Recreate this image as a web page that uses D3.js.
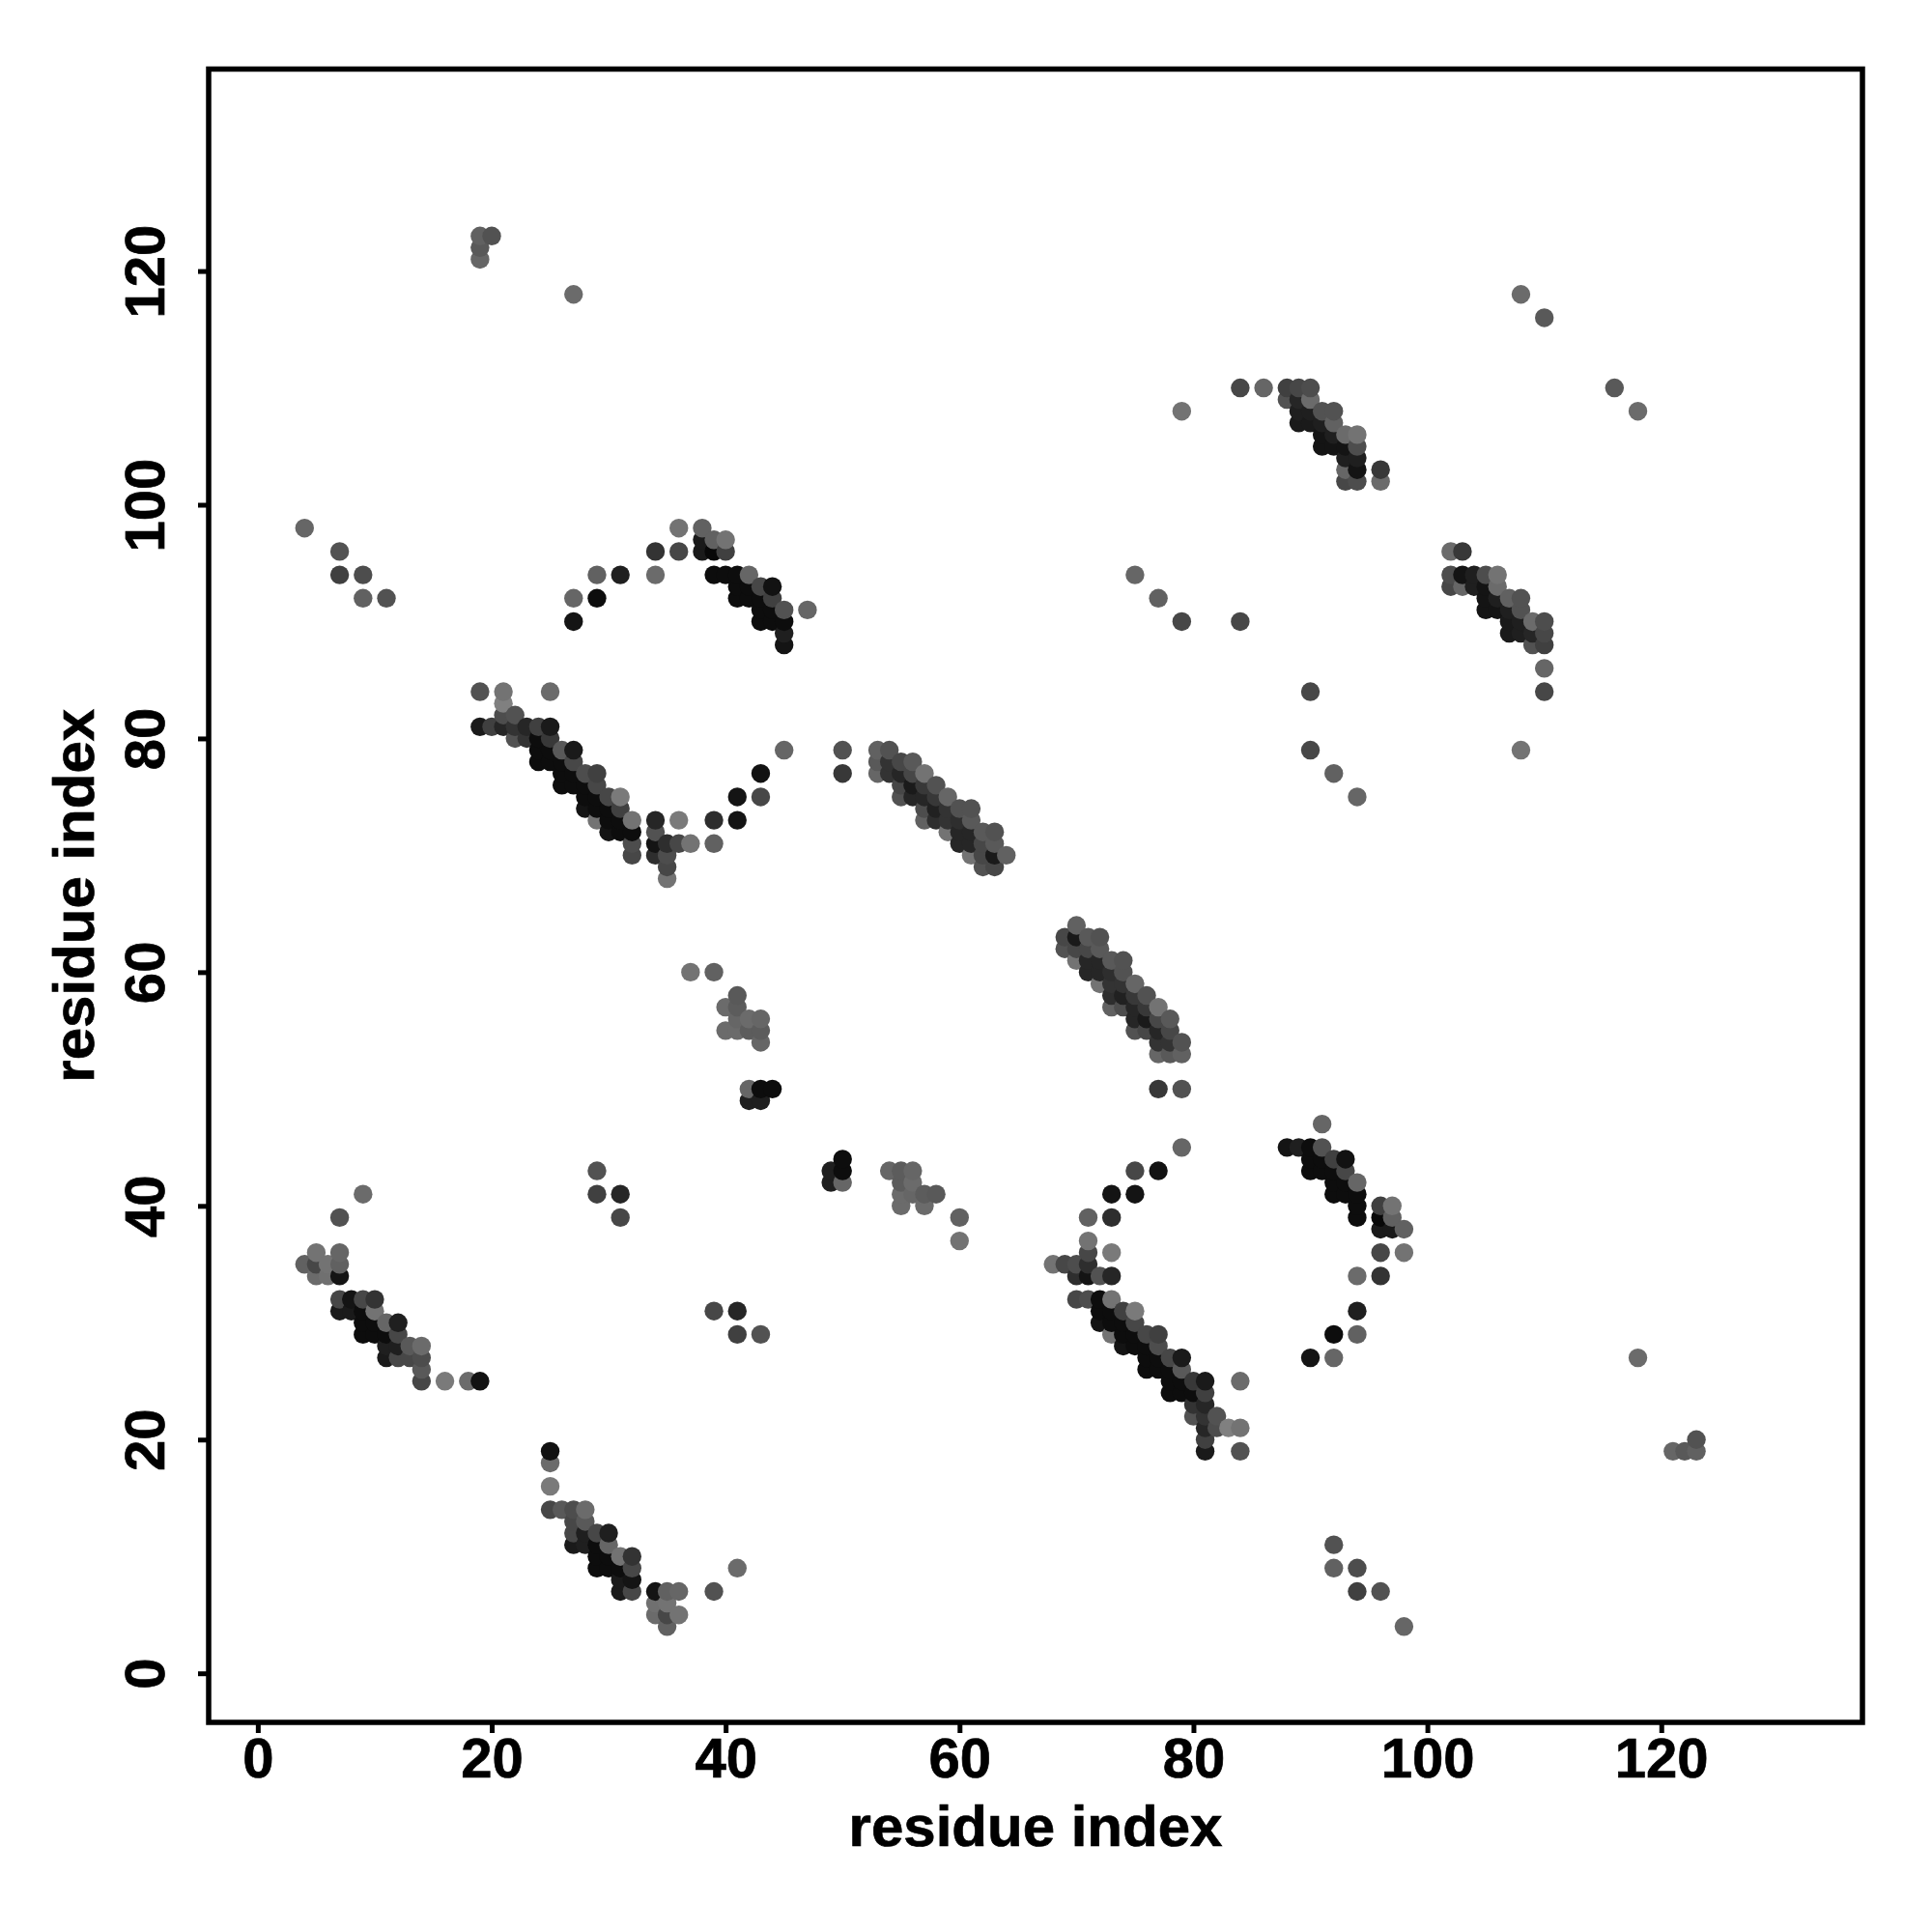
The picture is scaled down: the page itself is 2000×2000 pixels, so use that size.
<!DOCTYPE html>
<html><head><meta charset="utf-8">
<script src="https://cdnjs.cloudflare.com/ajax/libs/d3/7.8.5/d3.min.js"></script>
<style>html,body{margin:0;padding:0;background:#fff}svg{display:block}text{font-family:"Liberation Sans",Arial,sans-serif;font-weight:bold;fill:#000;stroke:#000;stroke-width:.7px}</style>
</head><body><div id="chart"></div>
<script>
const tickValues=[0,20,40,60,80,100,120];
const axisTitle="residue index";
// Symmetric contact map: each row is [residue i, residue j, darkness]; drawn at (i,j) and (j,i)
const contactsA=[[4,35,.62],[5,36,.55],[5,35,.72],[5,34,.58],[6,35,.55],[6,34,.56],[7,36,.6],[7,35,.62],[7,34,.92],[7,39,.68],[9,41,.58],
[7,32,.72],[8,32,.92],[9,32,.72],[10,32,.8],[7,31,.9],[8,31,.9],[9,31,.95],[10,31,.55],[9,30,.95],[10,30,.95],[11,30,.6],[12,30,.88],[9,29,.95],[10,29,.95],[11,29,.95],[12,29,.72],[11,28,.88],[12,28,.88],[13,28,.65],[14,28,.58],[11,27,.9],[12,27,.72],[13,27,.72],[14,27,.7],[14,26,.65],[14,25,.72],[16,25,.52],[18,25,.58],[19,25,.93]];
const contactsB=[[19,84,.68],[21,84,.55],[25,84,.58],[21,83,.5],[21,82,.7],[22,82,.68],[19,81,.9],[20,81,.75],[21,81,.85],[22,81,.8],[23,81,.85],[24,81,.75],[25,81,.9],[22,80,.68],[23,80,.8],[24,80,.95],[25,80,.78],[24,79,.95],[25,79,.95],[26,79,.65],[27,79,.9],[24,78,.95],[25,78,.95],[26,78,.95],[27,78,.72],[26,77,.95],[27,77,.95],[28,77,.7],[29,77,.75],[26,76,.95],[27,76,.95],[28,76,.95],[29,76,.72],[28,75,.95],[29,75,.95],[30,75,.72],[31,75,.52],[28,74,.92],[29,74,.95],[30,74,.95],[31,74,.75],[29,73,.55],[30,73,.95],[31,73,.95],[32,73,.55],[30,72,.92],[31,72,.95],[32,72,.95],[32,71,.7],[32,70,.72],[34,73,.85],[36,73,.52],[39,73,.82],[41,73,.92],[41,75,.92],[43,75,.72],[43,77,.93],[45,79,.6],[34,72,.68],[34,71,.92],[35,71,.82],[36,71,.72],[37,71,.55],[39,71,.62],[34,70,.82],[35,70,.7],[35,69,.72],[35,68,.55]];
const contactsC=[[27,90,.92],[27,92,.6],[29,92,.95],[29,94,.62],[31,94,.88],[34,94,.58],[34,96,.8],[36,96,.72],[36,98,.55],[38,98,.62],[38,97,.9],[39,97,.62],[40,97,.55],[38,96,.9],[39,96,.97],[40,96,.75],[39,94,.95],[40,94,.95],[41,94,.95],[42,94,.6],[41,93,.95],[42,93,.95],[43,93,.72],[44,93,.93],[41,92,.95],[42,92,.95],[43,92,.95],[44,92,.75],[43,91,.95],[44,91,.95],[45,91,.68],[43,90,.95],[44,90,.95],[45,90,.95],[45,89,.88],[45,88,.92],[47,91,.6]];
const contactsD=[[53,79,.62],[54,79,.68],[53,78,.65],[54,78,.8],[53,77,.6],[54,77,.8],[55,78,.72],[56,78,.65],[55,77,.85],[56,77,.72],[57,77,.55],[55,76,.72],[56,76,.9],[57,76,.78],[58,76,.68],[55,75,.68],[56,75,.85],[57,75,.85],[58,75,.78],[59,75,.6],[57,74,.7],[58,74,.87],[59,74,.8],[60,74,.68],[61,74,.68],[57,73,.62],[58,73,.82],[59,73,.8],[60,73,.82],[61,73,.65],[59,72,.55],[60,72,.85],[61,72,.85],[62,72,.65],[63,72,.68],[60,71,.85],[61,71,.85],[62,71,.72],[63,71,.65],[61,70,.55],[62,70,.72],[63,70,.9],[64,70,.62],[62,69,.68],[63,69,.72]];
const contactsE=[[84,110,.72],[86,110,.6],[79,108,.55],[88,110,.75],[89,110,.72],[90,110,.7],[88,109,.68],[89,109,.85],[90,109,.58],[89,108,.88],[90,108,.88],[91,108,.68],[92,108,.68],[89,107,.9],[90,107,.9],[91,107,.88],[92,107,.62],[91,106,.92],[92,106,.88],[93,106,.58],[94,106,.55],[91,105,.92],[92,105,.92],[93,105,.92],[94,105,.7],[93,104,.88],[94,104,.88],[93,103,.6],[94,103,.92],[93,102,.72],[94,102,.7],[96,103,.78],[96,102,.58]];
const contactsF=[[37,60,.55],[39,60,.62],[41,58,.65],[40,57,.58],[41,57,.64],[41,56,.6],[42,56,.58],[43,56,.6],[40,55,.58],[41,55,.58],[42,55,.64],[43,55,.64],[43,54,.6],[42,50,.6],[43,50,.95],[44,50,.95],[42,49,.88],[43,49,.88]];
const contactsG=[[19,123,.62],[20,123,.68],[19,122,.65],[19,121,.6],[27,118,.58],[108,118,.58],[110,116,.65],[4,98,.6],[7,96,.68],[7,94,.75],[9,94,.7],[9,92,.62],[11,92,.68],[29,43,.68],[29,41,.75],[31,41,.85],[31,39,.72],[75,94,.6],[77,92,.62],[79,90,.72],[84,90,.72],[50,77,.78],[50,79,.68]];
const contacts=[...contactsA,...contactsB,...contactsC,...contactsD,...contactsE,...contactsF,...contactsG];

const W=2000,H=2000,L=216,R=1928,T=71.5,B=1783;
const x=d3.scaleLinear().domain([-4.2,137.2]).range([L,R]);
const y=d3.scaleLinear().domain([-4.2,137.2]).range([B,T+1]);
const svg=d3.select("#chart").append("svg").attr("width",W).attr("height",H);

const shade=d3.scaleLinear().domain([0,1]).range(["#ffffff","#000000"]);
const points=contacts.flatMap(([i,j,v])=>[{x:i,y:j,v},{x:j,y:i,v}])
  .sort((a,b)=>d3.ascending(a.x,b.x)||d3.ascending(a.y,b.y));
svg.append("g").selectAll("circle").data(points).join("circle")
  .attr("cx",d=>x(d.x)).attr("cy",d=>y(d.y)).attr("r",9.7)
  .attr("fill",d=>shade(d.v));

svg.append("rect").attr("x",L).attr("y",T).attr("width",R-L).attr("height",B-T)
  .attr("fill","none").attr("stroke","#000").attr("stroke-width",5.5);

const gx=svg.append("g").attr("transform",`translate(0,${B})`)
  .call(d3.axisBottom(x).tickValues(tickValues).tickSize(11).tickPadding(10));
gx.select(".domain").remove();
gx.selectAll("line").attr("stroke","#000").attr("stroke-width",5);
gx.selectAll("text").style("font-size","58px").attr("dy",null).attr("y",57);

const gy=svg.append("g").attr("transform",`translate(${L},0)`)
  .call(d3.axisLeft(y).tickValues(tickValues).tickSize(11).tickPadding(10));
gy.select(".domain").remove();
gy.selectAll("line").attr("stroke","#000").attr("stroke-width",5);
gy.selectAll("text").style("font-size","58px").attr("dy",null).attr("x",null).attr("y",null)
  .attr("text-anchor","middle").attr("transform","translate(-46,0) rotate(-90)");

svg.append("text").attr("x",(L+R)/2).attr("y",1911).attr("text-anchor","middle").style("font-size","60px").text(axisTitle);
svg.append("text").attr("transform",`translate(97,${(T+B)/2}) rotate(-90)`).attr("text-anchor","middle").style("font-size","60px").text(axisTitle);
</script></body></html>
